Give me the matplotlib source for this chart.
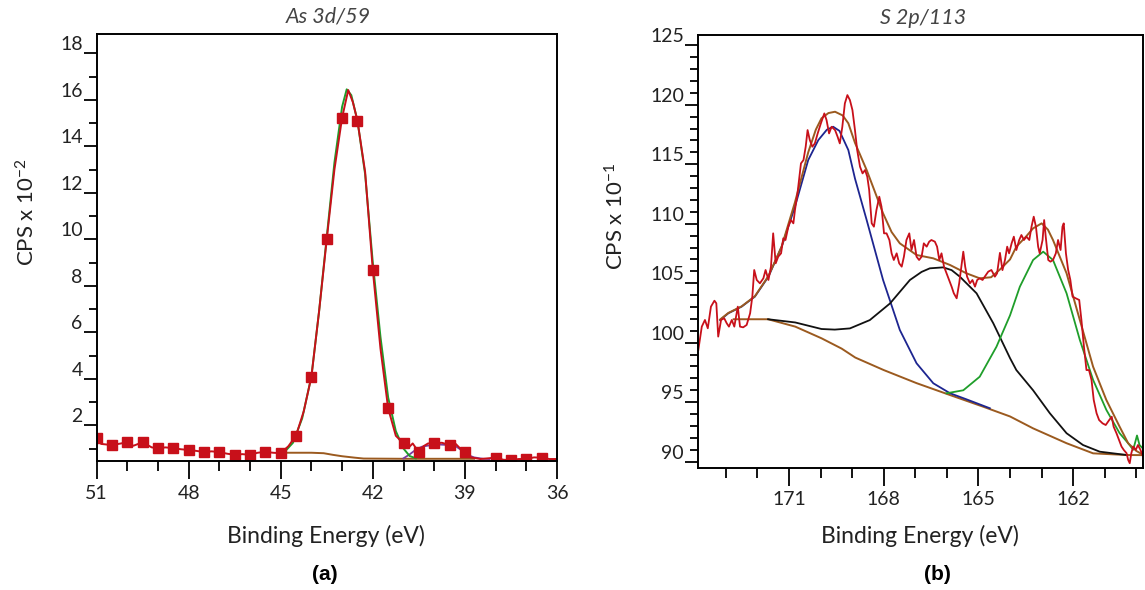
import matplotlib
matplotlib.use('Agg')
import matplotlib.pyplot as plt

plt.rcParams['font.family'] = ['Lato', 'DejaVu Sans']
plt.rcParams['mathtext.fontset'] = 'custom'
plt.rcParams['mathtext.rm'] = 'Lato'
plt.rcParams['mathtext.it'] = 'Lato:italic'

# ---------------- (a) As 3d ----------------
as_sq_be = [51.0, 50.5, 50.0, 49.5, 49.0, 48.5, 48.0, 47.5, 47.0, 46.5, 46.0, 45.5, 45.0,
            44.5, 44.0, 43.5, 43.0, 42.5, 42.0, 41.5, 41.0, 40.5, 40.0, 39.5, 39.0,
            38.0, 37.5, 37.0, 36.5]
as_sq_cps = [1.44, 1.15, 1.28, 1.27, 1.02, 1.02, 0.94, 0.85, 0.85, 0.73, 0.73, 0.86, 0.80,
             1.56, 4.09, 10.0, 15.23, 15.1, 8.68, 2.73, 1.22, 0.84, 1.22, 1.15, 0.84,
             0.61, 0.52, 0.55, 0.61]

as_line_be = [51.0, 50.85, 50.5, 50.2, 50.0, 49.8, 49.5, 49.2, 49.0, 48.75, 48.5, 48.25, 48.0,
              47.75, 47.5, 47.25, 47.0, 46.75, 46.5, 46.25, 46.0, 45.75, 45.5, 45.25, 45.0,
              44.75, 44.5, 44.25, 44.0, 43.75, 43.5, 43.25, 43.0, 42.8, 42.65, 42.5, 42.25,
              42.0, 41.75, 41.5, 41.25, 41.0, 40.85, 40.7, 40.5, 40.35, 40.2, 40.0, 39.75,
              39.5, 39.3, 39.15, 39.0, 38.8, 38.5, 38.25, 38.0, 37.75, 37.5, 37.25, 37.0,
              36.75, 36.5, 36.25, 36.0]
as_line_cps = [1.50, 1.20, 1.15, 1.22, 1.28, 1.12, 1.27, 1.05, 1.02, 1.05, 1.02, 0.97, 0.94,
               0.90, 0.85, 0.88, 0.85, 0.78, 0.73, 0.76, 0.73, 0.82, 0.86, 0.82, 0.80,
               1.10, 1.56, 2.60, 4.09, 6.90, 10.0, 13.0, 15.23, 16.42, 15.9, 15.1, 12.9,
               8.68, 5.30, 2.73, 1.55, 1.22, 1.02, 1.22, 0.84, 1.10, 1.22, 1.22, 1.25,
               1.15, 1.20, 1.00, 0.84, 0.62, 0.55, 0.58, 0.61, 0.52, 0.50, 0.55, 0.55,
               0.62, 0.61, 0.55, 0.55]

as_main_be = [44.9, 44.6, 44.3, 44.0, 43.75, 43.5, 43.25, 43.0, 42.85, 42.7, 42.5, 42.25,
              42.0, 41.75, 41.5, 41.25, 41.0, 40.8, 40.6]
as_main_cps = [0.82, 1.25, 2.3, 4.1, 6.9, 10.1, 13.3, 15.7, 16.45, 16.2, 15.1, 12.8,
               9.0, 5.8, 3.2, 1.75, 1.0, 0.68, 0.58]

as_minor_be = [41.0, 40.8, 40.6, 40.4, 40.1, 39.8, 39.5, 39.3, 39.1, 38.9, 38.7, 38.4, 38.2]
as_minor_cps = [0.58, 0.75, 0.95, 1.08, 1.15, 1.17, 1.15, 1.10, 0.92, 0.72, 0.62, 0.56, 0.55]

as_bg_be = [45.0, 44.0, 43.6, 43.3, 43.0, 42.6, 42.3, 41.0, 38.7]
as_bg_cps = [0.82, 0.82, 0.80, 0.73, 0.67, 0.61, 0.57, 0.56, 0.56]

# ---------------- (b) S 2p ----------------
s_be = [173.87, 173.76, 173.66, 173.57, 173.47, 173.36, 173.30, 173.24, 173.15, 173.05,
        172.97, 172.90, 172.81, 172.73, 172.62, 172.55, 172.45, 172.34, 172.23, 172.16,
        172.10, 172.02, 171.92, 171.81, 171.74, 171.65, 171.57, 171.50, 171.42, 171.34,
        171.25, 171.18, 171.11, 171.02, 170.94, 170.86, 170.81, 170.73, 170.62, 170.54,
        170.47, 170.41, 170.34, 170.26, 170.18, 170.09, 169.99, 169.88, 169.81, 169.73,
        169.65, 169.54, 169.46, 169.39, 169.31, 169.23, 169.15, 169.07, 168.99, 168.91,
        168.84, 168.75, 168.67, 168.59, 168.52, 168.46, 168.38, 168.31, 168.23, 168.14,
        168.07, 167.99, 167.91, 167.82, 167.75, 167.68, 167.59, 167.51, 167.43, 167.36,
        167.28, 167.19, 167.12, 167.04, 166.96, 166.88, 166.80, 166.73, 166.64, 166.56,
        166.49, 166.38, 166.31, 166.24, 166.17, 166.09, 166.01, 165.93, 165.85, 165.78,
        165.69, 165.61, 165.54, 165.48, 165.42, 165.36, 165.27, 165.19, 165.11, 165.04,
        164.96, 164.87, 164.80, 164.69, 164.59, 164.48, 164.41, 164.32, 164.24, 164.16,
        164.09, 164.03, 163.95, 163.88, 163.80, 163.71, 163.64, 163.56, 163.48, 163.39,
        163.32, 163.25, 163.18, 163.11, 163.06, 162.97, 162.92, 162.87, 162.79, 162.72,
        162.64, 162.55, 162.48, 162.40, 162.34, 162.30, 162.23, 162.16, 162.09, 162.02,
        161.92, 161.81, 161.74, 161.66, 161.58, 161.50, 161.42, 161.35, 161.26, 161.18,
        161.07, 160.97, 160.86, 160.78, 160.72, 160.63, 160.55, 160.47, 160.40, 160.31,
        160.26, 160.21, 160.16, 160.10, 160.02, 159.95, 159.87, 159.79]
s_cps = [99.39, 101.35, 101.91, 101.21, 103.03, 103.53, 103.31, 100.51, 101.91, 102.05,
         101.63, 101.35, 101.91, 101.35, 103.03, 101.35, 101.29, 101.49, 102.47, 103.87,
         106.11, 105.27, 104.99, 105.41, 106.11, 105.27, 106.39, 109.19, 106.67, 107.23,
         107.51, 108.77, 108.63, 109.75, 110.31, 110.03, 111.15, 112.55, 115.07, 115.35,
         116.47, 117.87, 117.03, 116.47, 116.75, 117.59, 118.43, 119.27, 118.71, 117.59,
         118.15, 117.87, 117.31, 116.75, 118.15, 120.11, 120.81, 120.39, 119.55, 117.87,
         116.19, 114.79, 114.23, 114.51, 113.95, 112.83, 110.03, 109.75, 111.15, 112.27,
         111.43, 109.19, 109.19, 108.63, 107.51, 106.95, 107.51, 106.67, 106.39, 107.23,
         108.63, 109.19, 107.79, 108.63, 107.23, 106.95, 107.23, 108.35, 108.07, 108.49,
         108.63, 108.49, 108.07, 106.95, 107.51, 106.39, 105.83, 105.27, 104.71, 104.15,
         103.73, 104.99, 106.39, 107.65, 106.39, 105.55, 104.99, 105.27, 104.71, 105.27,
         105.41, 105.27, 105.55, 105.97, 106.11, 105.55, 105.83, 107.55, 106.1, 106.95,
         108.07, 107.51, 108.35, 108.91, 107.79, 108.63, 109.05, 108.63, 108.91, 108.63,
         109.75, 110.59, 109.75, 108.07, 107.51, 108.63, 110.31, 108.91, 106.95, 106.81,
         106.95, 107.51, 108.63, 107.79, 109.75, 110.03, 107.51, 106.11, 105.27, 103.87,
         103.73, 103.59, 101.91, 99.66, 97.70, 97.70, 96.87, 95.18, 94.07, 93.50,
         93.22, 93.08, 93.50, 93.78, 92.94, 92.39, 91.83, 91.27, 90.99, 90.71,
         90.15, 89.87, 90.71, 91.27, 90.99, 91.40, 90.99, 90.43]

s_env_be = [173.18, 172.92, 172.50, 172.08, 171.65, 171.23, 170.81, 170.39, 170.15, 169.97,
            169.75, 169.54, 169.30, 169.12, 168.91, 168.54, 168.02, 167.75, 167.49, 166.96,
            166.43, 165.90, 165.38, 164.96, 164.60, 164.30, 164.00, 163.80, 163.50, 163.27,
            163.00, 162.80, 162.64, 162.21, 161.79, 161.37, 160.95, 160.53, 160.26, 160.00,
            159.80]
s_env_cps = [101.95, 102.50, 103.05, 103.90, 105.60, 108.10, 111.80, 116.00, 117.90, 118.86,
             119.30, 119.41, 119.10, 118.44, 116.80, 114.51, 110.87, 109.30, 108.35, 107.37,
             107.09, 106.53, 105.83, 105.41, 105.50, 106.20, 107.00, 108.07, 108.90, 109.61,
             110.03, 109.50, 108.63, 105.83, 101.91, 97.98, 95.18, 92.94, 91.55, 90.90,
             90.60]

s_blue_be = [173.18, 172.92, 172.50, 172.08, 171.65, 171.23, 170.81, 170.39, 170.07, 169.80,
             169.60, 169.40, 169.12, 168.91, 168.54, 168.02, 167.49, 166.96, 166.43, 165.90,
             165.38, 164.64]
s_blue_cps = [101.90, 102.47, 103.03, 103.87, 105.55, 108.07, 111.43, 115.35, 117.03, 117.90,
              118.15, 117.80, 116.19, 113.80, 110.31, 105.27, 101.07, 98.27, 96.59, 95.75,
              95.24, 94.49]

s_black_be = [171.66, 170.80, 169.97, 169.55, 169.07, 168.44, 167.80, 167.17, 166.80, 166.54,
              166.12, 165.85, 165.59, 165.06, 164.53, 164.00, 163.80, 163.27, 162.74, 162.21,
              161.69, 161.16, 160.31]
s_black_cps = [101.97, 101.70, 101.15, 101.10, 101.20, 101.90, 103.30, 105.27, 105.95, 106.25,
               106.33, 106.10, 105.55, 104.15, 101.63, 98.70, 97.70, 96.00, 94.07, 92.39,
               91.40, 90.84, 90.56]

s_green_be = [166.01, 165.48, 164.96, 164.43, 164.00, 163.69, 163.27, 162.95, 162.64, 162.21,
              161.79, 161.37, 160.95, 160.53, 160.26, 160.10, 159.98, 159.90, 159.79]
s_green_cps = [95.75, 96.00, 97.14, 99.66, 102.30, 104.70, 106.95, 107.65, 106.95, 104.15,
               100.23, 96.87, 94.35, 92.39, 91.55, 91.00, 92.20, 91.40, 91.10]

s_bg_be = [172.75, 171.66, 170.80, 169.97, 169.33, 168.90, 168.00, 166.96, 165.90, 164.85,
           164.00, 163.27, 162.21, 161.37, 160.31, 159.80]
s_bg_cps = [101.97, 101.97, 101.35, 100.37, 99.50, 98.75, 97.70, 96.60, 95.60, 94.62,
            93.80, 92.80, 91.55, 90.70, 90.56, 90.55]

RED = '#c8101a'
BROWN = '#9b5a1f'
GREEN = '#1f9e2a'
BLUE = '#1d2590'
PURPLE = '#7b3aa0'
TXT = '#222222'

W, H = 1145, 590


def style_axes(ax):
    for sp in ax.spines.values():
        sp.set_linewidth(1.4)
        sp.set_color('black')
    ax.tick_params(axis='x', which='major', direction='out', length=13, width=1.3,
                   pad=4, labelsize=14, labelcolor=TXT)
    ax.tick_params(axis='x', which='minor', direction='out', length=7, width=1.3)
    ax.tick_params(axis='y', which='major', direction='out', length=9.5, width=1.3,
                   pad=0.5, labelsize=14, labelcolor=TXT)
    ax.tick_params(axis='y', which='minor', direction='out', length=6, width=1.3)
    for lab in ax.get_yticklabels():
        lab.set_va('bottom')


fig = plt.figure(figsize=(W / 100, H / 100), dpi=100)

# panel (a)
ax1 = fig.add_axes([96.5 / W, 1 - 461 / H, (557 - 96.5) / W, (461 - 34) / H])
ax1.plot(as_bg_be, as_bg_cps, color=BROWN, lw=1.4)
ax1.plot(as_minor_be, as_minor_cps, color=PURPLE, lw=1.3)
ax1.plot(as_main_be, as_main_cps, color=GREEN, lw=1.4)
ax1.plot(as_line_be, as_line_cps, color=RED, lw=1.4)
ax1.plot(as_sq_be, as_sq_cps, 's', color=RED, ms=7.5, mec=RED)
ax1.set_xlim(51, 36)
ax1.set_ylim(0.465, 18.83)
ax1.set_xticks([51, 48, 45, 42, 39, 36])
ax1.set_xticks(range(36, 52), minor=True)
ax1.set_yticks(range(2, 19, 2))
ax1.set_yticks(range(1, 19, 2), minor=True)
style_axes(ax1)

# panel (b)
ax2 = fig.add_axes([698 / W, 1 - 467.5 / H, (1143 - 698) / W, (467.5 - 35) / H])
ax2.plot(s_bg_be, s_bg_cps, color=BROWN, lw=1.4)
ax2.plot(s_blue_be, s_blue_cps, color=BLUE, lw=1.3)
ax2.plot(s_black_be, s_black_cps, color='#111111', lw=1.3)
ax2.plot(s_green_be, s_green_cps, color=GREEN, lw=1.3)
ax2.plot(s_env_be, s_env_cps, color=BROWN, lw=1.4)
ax2.plot(s_be, s_cps, color=RED, lw=1.3)
ax2.set_xlim(173.88, 159.79)
ax2.set_ylim(89.51, 125.86)
ax2.set_xticks([171, 168, 165, 162])
ax2.set_xticks(range(160, 174), minor=True)
ax2.set_yticks(range(90, 126, 5))
ax2.set_yticks(range(90, 126), minor=True)
style_axes(ax2)


def ftext(x, y, s, **kw):
    fig.text(x / W, 1 - y / H, s, ha='center', va='center', **kw)


ftext(328, 17, 'As 3d/59', fontsize=15.5, style='italic', color='#444444')
ftext(923, 18, 'S 2p/113', fontsize=15.5, style='italic', color='#444444')
ftext(326, 536, 'Binding Energy (eV)', fontsize=16.5, color=TXT)
ftext(920, 536, 'Binding Energy (eV)', fontsize=16.5, color=TXT)
ftext(27, 212, r'CPS x 10$^{-2}$', fontsize=16, color=TXT, rotation=90)
ftext(616, 216, r'CPS x 10$^{-1}$', fontsize=16, color=TXT, rotation=90)
ftext(325, 574, '(a)', fontsize=15, fontweight='bold', family='Liberation Sans', color='black')
ftext(937, 574, '(b)', fontsize=15, fontweight='bold', family='Liberation Sans', color='black')

fig.savefig('out.png', dpi=100)
